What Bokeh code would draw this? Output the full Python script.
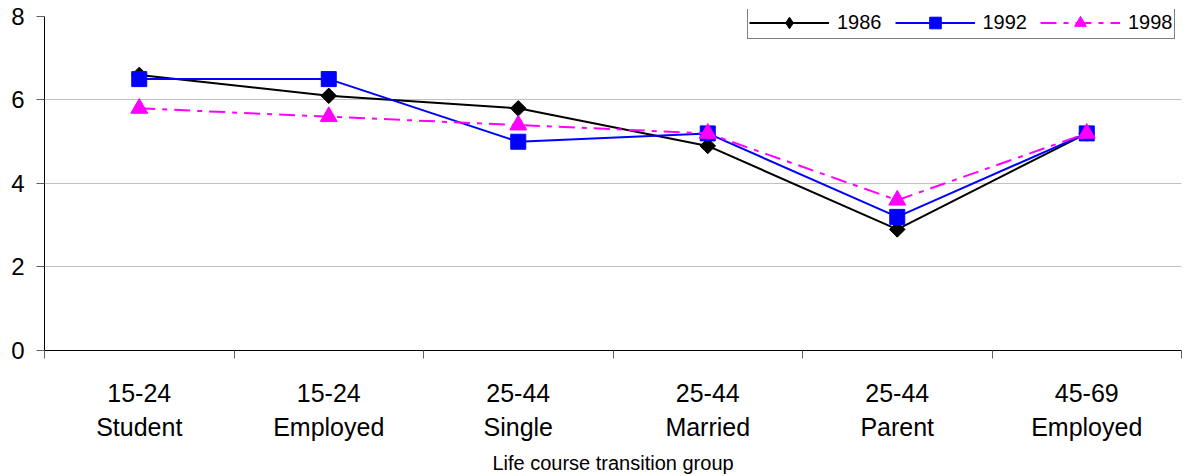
import math
from bokeh.plotting import figure
from bokeh.models import FixedTicker, Legend, LegendItem, Range1d
from bokeh.embed import file_html
from bokeh.resources import INLINE

categories = ["15-24\nStudent", "15-24\nEmployed", "25-44\nSingle",
              "25-44\nMarried", "25-44\nParent", "45-69\nEmployed"]
s1986 = [6.6, 6.1, 5.8, 4.9, 2.9, 5.2]
s1992 = [6.5, 6.5, 5.0, 5.2, 3.2, 5.2]
s1998 = [5.8, 5.6, 5.4, 5.2, 3.6, 5.2]
y_ticks = [0, 2, 4, 6, 8]
series_names = ["1986", "1992", "1998"]

FONT = "Liberation Sans"
n = len(categories)
xs = [i + 0.5 for i in range(n)]

# frame extends a few px above the top tick so the legend is not clipped
p = figure(width=1184, height=476, output_backend="svg", toolbar_location=None,
           x_range=Range1d(0, n), y_range=Range1d(0, 8.167),
           min_border_left=44, min_border_right=3, min_border_top=9,
           min_border_bottom=125)
p.outline_line_color = None
p.background_fill_color = "white"
p.border_fill_color = "white"

# grid
p.xgrid.visible = False
p.ygrid.ticker = FixedTicker(ticks=[t for t in y_ticks if 0 < t < 8])
p.ygrid.grid_line_color = "#c0c0c0"
p.ygrid.grid_line_width = 1

# y axis
p.yaxis.ticker = FixedTicker(ticks=y_ticks, minor_ticks=[])
p.yaxis.bounds = (0, 8)
p.yaxis.axis_line_color = "black"
p.yaxis.major_tick_in = 0
p.yaxis.major_tick_out = 8
p.yaxis.major_tick_line_color = "#606060"
p.yaxis.minor_tick_line_color = None
p.yaxis.major_label_standoff = 12
p.yaxis.major_label_text_font = FONT
p.yaxis.major_label_text_font_size = "24px"
p.yaxis.major_label_text_color = "black"

# x axis
p.xaxis.ticker = FixedTicker(ticks=xs, minor_ticks=list(range(n + 1)))
p.xaxis.major_label_overrides = {x: c for x, c in zip(xs, categories)}
p.xaxis.axis_line_color = "black"
p.xaxis.major_tick_in = 0
p.xaxis.major_tick_out = 0
p.xaxis.minor_tick_in = 0
p.xaxis.minor_tick_out = 8
p.xaxis.minor_tick_line_color = "#606060"
p.xaxis.major_label_standoff = 20
p.xaxis.major_label_text_font = FONT
p.xaxis.major_label_text_font_size = "25px"
p.xaxis.major_label_text_line_height = 1.22
p.xaxis.major_label_text_color = "black"
p.xaxis.axis_label = "Life course transition group"
p.xaxis.axis_label_text_font = FONT
p.xaxis.axis_label_text_font_size = "20px"
p.xaxis.axis_label_text_font_style = "normal"
p.xaxis.axis_label_text_color = "black"
p.xaxis.axis_label_standoff = 8

# series
l1 = p.line(xs, s1986, line_color="black", line_width=2)
m1_leg = p.scatter(xs, s1986, marker="diamond", size=11,
                   fill_color="black", line_color="black")
m1 = p.scatter(xs, s1986, marker="square", angle=math.pi / 4, size=11,
               fill_color="black", line_color="black")
l2 = p.line(xs, s1992, line_color="#0000ff", line_width=2)
m2 = p.scatter(xs, s1992, marker="square", size=15,
               fill_color="#0000ff", line_color="#0000ff")
l3 = p.line(xs, s1998, line_color="#ff00ff", line_width=2, line_dash="16 7 5 7")
m3 = p.scatter(xs, s1998, marker="triangle", size=17,
               fill_color="#ff00ff", line_color="#ff00ff")

legend = Legend(items=[
    LegendItem(label=series_names[0], renderers=[l1, m1_leg]),
    LegendItem(label=series_names[1], renderers=[l2, m2]),
    LegendItem(label=series_names[2], renderers=[l3, m3]),
], orientation="horizontal", location=(703, 311),
    glyph_width=80, glyph_height=29, label_height=20, label_standoff=8,
    spacing=13, padding=1, margin=0,
    border_line_color="black", border_line_width=1,
    label_text_font=FONT, label_text_font_size="20px",
    label_text_color="black", background_fill_color="white",
    background_fill_alpha=1)
p.add_layout(legend)

open("out.html", "w").write(file_html(p, INLINE))
